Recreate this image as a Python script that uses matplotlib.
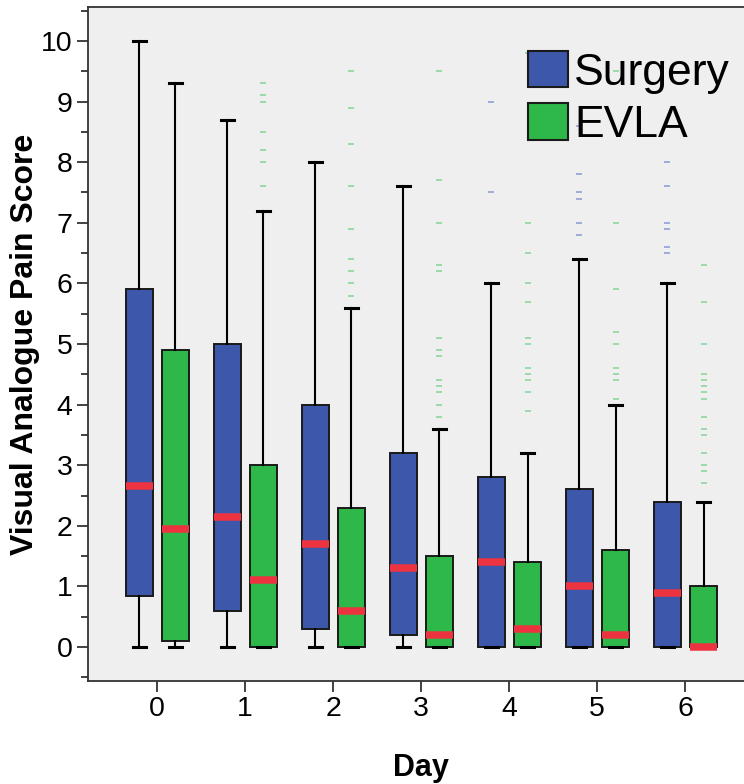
import matplotlib
matplotlib.use("Agg")
import matplotlib.pyplot as plt
from matplotlib.patches import Patch

plt.rcParams['font.family'] = ['Liberation Sans', 'DejaVu Sans']

days = [0, 1, 2, 3, 4, 5, 6]
groups = ["Surgery", "EVLA"]

# Five-number summaries per day: (whisker low, Q1, median, Q3, whisker high)
surgery_lo = [0, 0, 0, 0, 0, 0, 0]
surgery_q1 = [0.85, 0.6, 0.3, 0.2, 0, 0, 0]
surgery_med = [2.65, 2.15, 1.7, 1.3, 1.4, 1.0, 0.9]
surgery_q3 = [5.9, 5.0, 4.0, 3.2, 2.8, 2.6, 2.4]
surgery_hi = [10.0, 8.7, 8.0, 7.6, 6.0, 6.4, 6.0]

evla_lo = [0, 0, 0, 0, 0, 0, 0]
evla_q1 = [0.1, 0, 0, 0, 0, 0, 0]
evla_med = [1.95, 1.1, 0.6, 0.2, 0.3, 0.2, 0.0]
evla_q3 = [4.9, 3.0, 2.3, 1.5, 1.4, 1.6, 1.0]
evla_hi = [9.3, 7.2, 5.6, 3.6, 3.2, 4.0, 2.4]

# Outlying scores beyond the whiskers
surgery_out = [
    [], [], [], [],
    [9.0, 7.5],
    [8.6, 7.8, 7.5, 7.4, 7.0, 6.8],
    [8.0, 7.6, 7.0, 6.9, 6.6, 6.5],
]
evla_out = [
    [],
    [9.3, 9.1, 9.0, 8.5, 8.2, 8.0, 7.6],
    [9.5, 8.9, 8.3, 7.6, 6.9, 6.4, 6.2, 6.0, 5.8],
    [9.5, 7.7, 7.0, 6.3, 6.2, 5.1, 4.9, 4.8, 4.4, 4.3, 4.2, 4.0, 3.8],
    [9.8, 7.0, 6.5, 6.0, 5.7, 5.1, 5.0, 4.6, 4.5, 4.4, 4.2, 3.9],
    [9.5, 7.0, 5.9, 5.2, 5.0, 4.6, 4.5, 4.4, 4.1],
    [6.3, 5.7, 5.0, 4.5, 4.4, 4.3, 4.2, 4.1, 3.8, 3.6, 3.5, 3.2, 3.0, 2.9, 2.7],
]

blue = "#3D58AA"
green = "#2EB84A"
red = "#EE3340"
bg = "#EFEFEF"

fig = plt.figure(figsize=(7.44, 7.84), dpi=100)
ax = fig.add_axes([88 / 744, 103 / 784, 1 - 88 / 744, 674 / 784])
ax.set_facecolor(bg)


def stats(lo, q1, med, q3, hi, out):
    return [dict(whislo=a, q1=b, med=c, q3=d, whishi=e, fliers=f)
            for a, b, c, d, e, f in zip(lo, q1, med, q3, hi, out)]


series = [
    (stats(surgery_lo, surgery_q1, surgery_med, surgery_q3, surgery_hi, surgery_out), -0.2, blue, "#7388d0"),
    (stats(evla_lo, evla_q1, evla_med, evla_q3, evla_hi, evla_out), 0.21, green, "#6fcf82"),
]

for st, off, col, fcol in series:
    ax.bxp(st, positions=[d + off for d in days], widths=0.31,
           patch_artist=True, manage_ticks=False,
           boxprops=dict(facecolor=col, edgecolor="#1a1a1a", linewidth=1.4),
           medianprops=dict(color=red, linewidth=5.4, solid_capstyle="butt"),
           whiskerprops=dict(color="black", linewidth=1.5),
           capprops=dict(color="black", linewidth=2.2),
           flierprops=dict(marker="_", markersize=5, markeredgewidth=1.3,
                           markeredgecolor=fcol, alpha=0.7, linestyle="none"),
           zorder=3)

ax.set_xlim(-0.784, 6.67)
ax.set_ylim(-0.56, 10.56)
ax.set_xticks(days)
ax.set_xticklabels([str(d) for d in days])
ax.set_yticks(range(0, 11))
ax.set_yticks([v + 0.5 for v in range(-1, 11)], minor=True)

ax.tick_params(axis="both", which="major", labelsize=20.5, length=8, width=1.3,
               color="#333333", pad=3)
ax.tick_params(axis="y", which="minor", length=5, width=1.3, color="#333333")
ax.tick_params(axis="x", which="minor", length=0)

for side in ("left", "bottom", "top"):
    ax.spines[side].set_color("#333333")
    ax.spines[side].set_linewidth(1.3)
ax.spines["right"].set_visible(False)

ax.set_ylabel("Visual Analogue Pain Score", fontsize=23, fontweight="bold")
ax.set_xlabel("Day", fontsize=22, fontweight="bold")
ax.xaxis.set_label_coords(421 / 744, 1 - 768 / 784, transform=fig.transFigure)
ax.xaxis.label.set_va("center")
ax.yaxis.label.set_va("center")
ax.yaxis.set_label_coords(25 / 744, 1 - 344 / 784, transform=fig.transFigure)

handles = [Patch(facecolor=blue, edgecolor="#1a1a1a", linewidth=1.5),
           Patch(facecolor=green, edgecolor="#1a1a1a", linewidth=1.5)]
ax.legend(handles, groups, loc="upper left",
          bbox_to_anchor=(528 / 744, 1 - 51 / 784), bbox_transform=fig.transFigure,
          frameon=False, fontsize=32, handlelength=0.9, handleheight=0.88,
          handletextpad=0.14, labelspacing=0.22, borderpad=0, borderaxespad=0)

fig.savefig("out.png", dpi=100)
